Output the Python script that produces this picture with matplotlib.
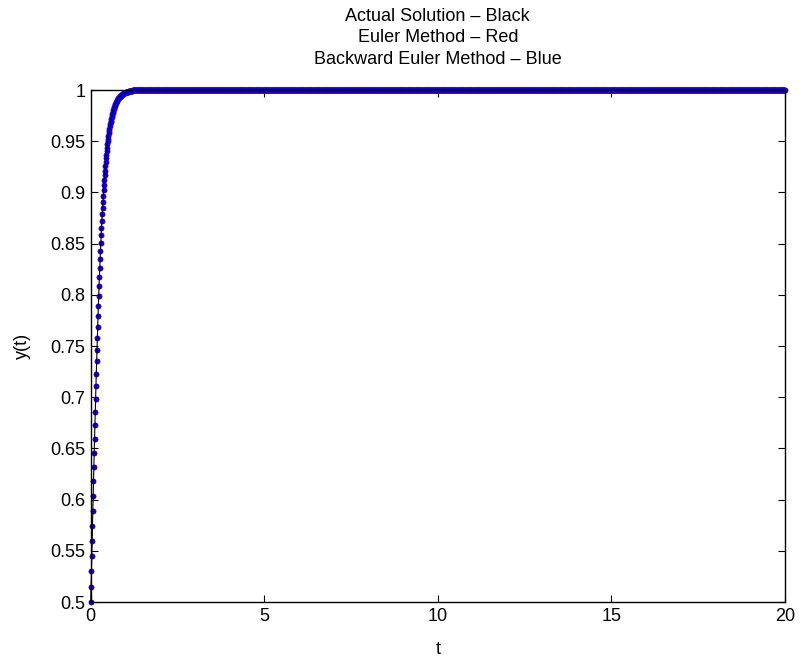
import numpy as np
import matplotlib.pyplot as plt

plt.rcParams['font.family'] = ['Liberation Sans', 'DejaVu Sans']

# step size and end time of the solver output
h = 0.01
t_end = 20.0

# y values read along the rising part (one per step, t = 0 .. 1.20)
y_actual = [
    0.5000, 0.5150, 0.5300, 0.5449, 0.5597, 0.5744, 0.5890, 0.6035, 0.6177, 0.6318,
    0.6457, 0.6593, 0.6726, 0.6857, 0.6985, 0.7109, 0.7231, 0.7350, 0.7465, 0.7577,
    0.7685, 0.7790, 0.7892, 0.7990, 0.8085, 0.8176, 0.8264, 0.8348, 0.8429, 0.8507,
    0.8581, 0.8653, 0.8721, 0.8787, 0.8849, 0.8909, 0.8966, 0.9020, 0.9072, 0.9121,
    0.9168, 0.9213, 0.9255, 0.9296, 0.9334, 0.9370, 0.9405, 0.9437, 0.9469, 0.9498,
    0.9526, 0.9552, 0.9577, 0.9601, 0.9623, 0.9644, 0.9664, 0.9683, 0.9701, 0.9718,
    0.9734, 0.9749, 0.9763, 0.9777, 0.9790, 0.9802, 0.9813, 0.9824, 0.9834, 0.9843,
    0.9852, 0.9861, 0.9869, 0.9876, 0.9883, 0.9890, 0.9896, 0.9902, 0.9908, 0.9913,
    0.9918, 0.9923, 0.9928, 0.9932, 0.9936, 0.9939, 0.9943, 0.9946, 0.9949, 0.9952,
    0.9955, 0.9958, 0.9960, 0.9962, 0.9965, 0.9967, 0.9969, 0.9970, 0.9972, 0.9974,
    0.9975, 0.9977, 0.9978, 0.9979, 0.9981, 0.9982, 0.9983, 0.9984, 0.9985, 0.9986,
    0.9986, 0.9987, 0.9988, 0.9989, 0.9989, 0.9990, 0.9990, 0.9991, 0.9992, 0.9992,
    0.9993,
]
# the two methods sit on top of the exact curve in the picture
y_euler = list(y_actual)
y_backward = list(y_actual)
y_plateau = 1.0

x_ticks = [0, 5, 10, 15, 20]
y_ticks = [0.5, 0.55, 0.6, 0.65, 0.7, 0.75, 0.8, 0.85, 0.9, 0.95, 1.0]

title_lines = ["Actual Solution \u2013 Black",
               "Euler Method \u2013 Red",
               "Backward Euler Method \u2013 Blue"]


def full_series(rise):
    n = int(round(t_end / h)) + 1
    t = np.arange(n) * h
    y = np.concatenate([rise, np.full(n - len(rise), y_plateau)])
    return t, y


t, ya = full_series(y_actual)
_, ye = full_series(y_euler)
_, yb = full_series(y_backward)

fig = plt.figure(figsize=(8, 6.57), dpi=100)
ax = fig.add_axes([0.1134, 0.0837, 0.981 - 0.1134, 0.863 - 0.0837])

ax.plot(t, ye, 'o', color='red', ms=4.2, mew=0, clip_on=False)
ax.plot(t, yb, 'o', color='blue', ms=3.9, mew=0, clip_on=False)
ax.plot(t, ya, '-', color='black', lw=0.8, clip_on=False)

ax.set_xlim(0, 20)
ax.set_ylim(0.5, 1)
ax.set_xticks(x_ticks)
ax.set_yticks(y_ticks)
ax.set_xticklabels(['%g' % v for v in x_ticks])
ax.set_yticklabels(['%g' % v for v in y_ticks])
ax.tick_params(direction='in', length=5, width=0.8, labelsize=13,
               top=True, right=True, pad=4)
for sp in ax.spines.values():
    sp.set_linewidth(1.0)

ax.set_xlabel('t', fontsize=13, labelpad=12)
ax.set_ylabel('y(t)', fontsize=13, labelpad=14)
ax.set_title('\n'.join(title_lines), fontsize=13, pad=19, linespacing=1.35)

fig.savefig('out.png', dpi=100)
